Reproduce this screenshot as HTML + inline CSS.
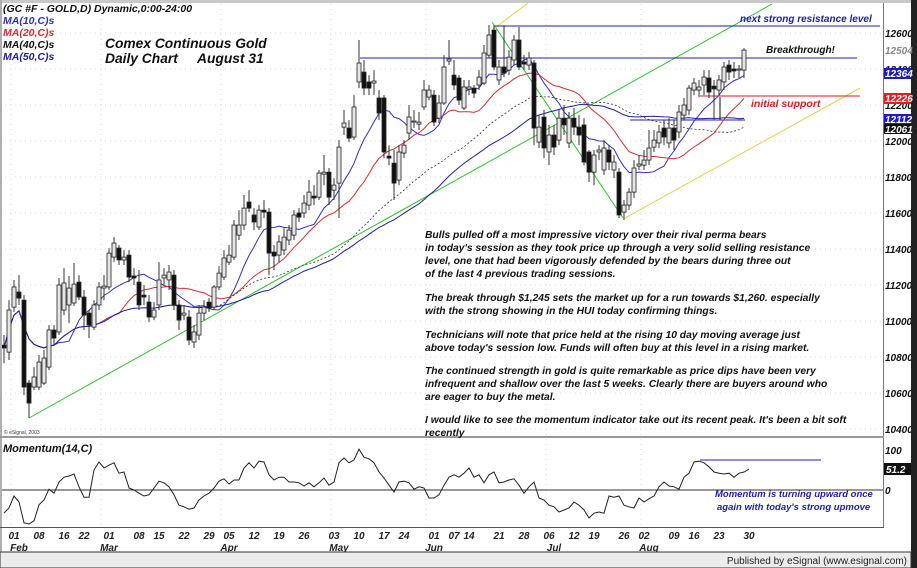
<!DOCTYPE html>
<html><head><meta charset="utf-8"><style>
html,body{margin:0;padding:0;background:#fff;}
svg{display:block;font-family:"Liberation Sans",sans-serif;}
.t{font-style:italic;font-weight:bold;}
</style></head><body>
<svg id="c" width="917" height="568" viewBox="0 0 917 568">
<rect x="0" y="0" width="917" height="568" fill="#fff"/>
<g id="grid"></g>
<g id="lines"></g>
<g id="mas"></g>
<g id="candles"></g>
<g id="mom"></g>
<g id="axes"></g>
</svg>
<script>
const opens=[10866,10827,11077,11161,11116,10655,10633,10633,10655,10744,10950,10939,11061,11089,11100,11216,11133,11044,10966,11089,11183,11189,11355,11405,11339,11366,11250,11216,11144,11105,11022,11089,11239,11228,11255,11089,11033,11022,10883,10922,11044,11105,11077,11189,11244,11327,11355,11477,11533,11661,11589,11522,11616,11605,11383,11366,11394,11450,11477,11600,11600,11644,11694,11688,11816,11827,11727,11766,12077,12072,12022,12328,12383,12328,12322,12239,12239,11916,11877,11783,11933,12044,12105,12094,12189,12244,12255,12127,12211,12444,12366,12350,12183,12289,12294,12311,12322,12477,12616,12339,12411,12394,12450,12561,12439,12422,12433,11994,12133,11939,12033,12005,12127,11989,12127,12077,12089,11939,11827,11939,11839,11950,11839,11827,11605,11644,11716,11861,11866,11894,11966,11989,12072,11989,12072,12050,12144,12172,12283,12283,12311,12350,12305,12283,12328,12422,12400,12394,12394];
const closes=[10850,11061,11189,11127,10633,10544,10689,10772,10794,10950,10905,11200,11211,11183,11205,11133,11033,10977,11089,11189,11194,11377,11433,11339,11355,11244,11239,11089,11133,11022,11061,11228,11255,11272,11089,11005,11044,10894,10939,11044,11077,11072,11189,11266,11350,11366,11533,11533,11627,11627,11550,11616,11605,11377,11361,11439,11466,11505,11589,11577,11655,11716,11683,11822,11827,11688,11755,11966,12100,12016,12189,12433,12294,12294,12333,12155,11939,11905,11766,11939,11977,12133,12111,12105,12283,12283,12105,12211,12411,12455,12311,12227,12300,12300,12266,12355,12489,12589,12411,12411,12377,12466,12561,12411,12427,12461,12072,12077,11961,12033,11966,12127,12089,12127,12077,12033,11883,11827,11922,11950,11961,11883,11883,11589,11644,11716,11850,11872,11894,11961,12005,12050,12022,12072,12005,12161,12200,12294,12322,12300,12355,12272,12289,12339,12411,12383,12389,12400,12505];
const highs=[10922,11116,11228,11255,11144,10672,10744,10811,10838,10977,10977,11239,11294,11250,11322,11255,11172,11061,11116,11216,11255,11405,11466,11422,11394,11394,11294,11283,11200,11144,11105,11327,11294,11311,11283,11116,11089,11061,10977,11089,11116,11127,11200,11305,11394,11422,11561,11616,11700,11727,11627,11644,11672,11627,11422,11477,11516,11533,11616,11627,11700,11783,11755,11839,11922,11850,11794,12005,12172,12116,12255,12561,12450,12366,12394,12283,12255,11977,11950,11977,12005,12200,12172,12161,12339,12311,12283,12255,12477,12561,12450,12366,12339,12339,12311,12394,12533,12644,12644,12450,12644,12505,12589,12633,12477,12494,12450,12144,12172,12089,12089,12172,12200,12161,12183,12144,12127,11950,11950,11977,12005,11977,11922,11850,11672,11739,11894,11922,11950,12061,12061,12089,12116,12127,12116,12200,12239,12311,12350,12339,12394,12394,12339,12366,12439,12450,12439,12422,12516];
const lows=[10766,10783,11050,11089,10589,10461,10616,10616,10644,10727,10866,10922,11033,10989,11083,11116,10950,10905,10950,11061,11116,11172,11327,11311,11311,11216,11200,11061,11089,10994,11005,11061,11200,11172,11061,10950,11005,10866,10850,10894,11005,11050,11061,11172,11228,11311,11339,11450,11505,11605,11505,11505,11572,11255,11283,11327,11366,11422,11450,11550,11572,11616,11644,11672,11755,11644,11672,11572,12033,11994,12005,12294,12255,12255,12255,12116,11905,11866,11672,11755,11905,12005,12072,12061,12172,12227,12083,12100,12200,12422,12283,12200,12172,12255,12239,12283,12311,12461,12394,12311,12355,12366,12422,12394,12394,12394,11977,11961,11905,11866,11922,11977,12033,11961,12033,11977,11866,11772,11755,11894,11811,11839,11794,11572,11561,11616,11683,11839,11839,11866,11939,11961,11977,11961,11950,12016,12116,12144,12255,12244,12255,12239,12116,12255,12283,12339,12350,12350,12350];
const momentum=[-57.5,-45,-15,-30,-82,-85,-77,-37,-25,2,-8,20,32,35,40,8,-18,-18,50,70,55,62,68,42,45,5,0,-8,-15,-12,5,22,18,8,-12,-38,-42,-48,-45,-25,-15,-8,5,22,28,15,25,25,55,68,55,72,70,38,25,32,32,20,20,18,10,18,8,18,30,12,20,68,80,68,75,102,82,78,68,45,30,12,-5,20,22,18,2,8,5,-20,-20,-12,12,32,38,32,42,55,32,38,18,38,45,18,20,25,28,12,-8,8,20,-20,-25,-38,-42,-55,-50,-45,-30,-38,-50,-70,-58,-55,-58,-15,-18,-15,-38,-42,-45,-20,-30,-22,-15,8,20,10,8,2,32,42,70,72,68,58,45,42,40,42,32,42,45,52];
const priceTicks=[10400,10600,10800,11000,11200,11400,11600,11800,12000,12200,12400,12600];
const dayTickIdx=[2,7,12,16,21,27,31,36,41,45,50,55,60,66,71,76,80,86,90,93,99,104,109,114,118,124,128,134,138,143,149];
const dayTickLabels=["01","08","16","22","01","08","15","22","29","05","12","19","26","03","10","17","24","01","07","14","21","28","06","12","19","26","02","09","16","23","30"];
const monthIdx=[3,21,45,67,86,110,129];
const monthLabels=["Feb","Mar","Apr","May","Jun","Jul","Aug"];
const NS="http://www.w3.org/2000/svg";
function xS(i){return 4+5*i;}
function yS(p){return 141-(p-12000)*0.18;}
function mY(v){return 490-v*0.4;}
function mk(tag,attrs,parent){const e=document.createElementNS(NS,tag);for(const k in attrs)e.setAttribute(k,attrs[k]);parent.appendChild(e);return e;}
const G=id=>document.getElementById(id);
const grid=G('grid');
priceTicks.forEach(p=>{const l=mk('line',{x1:0,x2:884,y1:yS(p),y2:yS(p),stroke:'#d8d8d8','stroke-dasharray':'1,4'},grid);

});
monthIdx.forEach(i=>{const l=mk('line',{x1:xS(i)-8,x2:xS(i)-8,y1:4,y2:527,stroke:'#d8d8d8','stroke-dasharray':'1,4'},grid);

});
function ma(n){return closes.map((c,i)=>{const s=closes.slice(Math.max(0,i-n+1),i+1);return s.reduce((a,b)=>a+b,0)/s.length;});}
const maDefs=[[10,'#3030c0','',1,'ma-10'],[20,'#d03030','',1,'ma-20'],[40,'#333','2,2',0.8,'ma-40'],[50,'#2020a0','',1,'ma-50']];
maDefs.forEach(d=>{const v=ma(d[0]);const pts=v.map((p,i)=>xS(i)+','+yS(p).toFixed(1)).join(' ');
const pl=mk('polyline',{points:pts,fill:'none',stroke:d[1],'stroke-width':d[3],'stroke-dasharray':d[2]},G('mas'));

});
const cg=G('candles');
closes.forEach((c,i)=>{const o=opens[i],x=xS(i);
const w=mk('line',{x1:x,x2:x,y1:yS(highs[i]),y2:yS(lows[i]),stroke:'#333','stroke-width':1},cg);


const top=yS(Math.max(o,c)),h=Math.max(1,Math.abs(yS(o)-yS(c)));
const r=mk('rect',{x:x-2,y:top,width:4,height:h,fill:c>=o?'#e6e6e6':'#111',stroke:'#222','stroke-width':0.8},cg);

});
const ln=G('lines');
[[29,418,772,4,'#30c030','uptrend-line'],[492,22,623,218,'#30c030','decline-line'],[492,30,528,3,'#e0d050','upper-channel-line'],[625,218,860,88,'#e0d050','lower-channel-line'],
[495,26,880,26,'#2020b0','resistance-line'],[360,58,857,58,'#2020b0','breakout-line'],[700,96,860,96,'#d02020','support-line'],[630,120,745,120,'#2020b0','ma-level-line'],[720,97,720,120,'#111','support-tail']].forEach(a=>{
const l=mk('line',{x1:a[0],y1:a[1],x2:a[2],y2:a[3],stroke:a[4],'stroke-width':1},ln);

});
const mg=G('mom');
const zl=mk('line',{x1:0,x2:884,y1:mY(0),y2:mY(0),stroke:'#333','stroke-width':1},mg);


const mp=mk('polyline',{points:momentum.map((v,i)=>xS(i)+','+mY(v).toFixed(1)).join(' '),fill:'none',stroke:'#222','stroke-width':1},mg);


const mh=mk('line',{x1:700,x2:821,y1:460,y2:460,stroke:'#2020b0'},mg);


const ax=G('axes');
priceTicks.forEach(p=>{const t=mk('text',{x:885,y:yS(p)+4,'font-size':10,class:'t',fill:'#111'},ax);t.textContent=p;

});
dayTickIdx.forEach((i,k)=>{const t=mk('text',{x:xS(i),y:539,'font-size':10,class:'t','text-anchor':'middle',fill:'#222'},ax);t.textContent=dayTickLabels[k];

});
monthIdx.forEach((i,k)=>{const t=mk('text',{x:xS(i),y:551,'font-size':10,class:'t','text-anchor':'middle',fill:'#222'},ax);t.textContent=monthLabels[k];

});
</script>
<svg width="917" height="568" style="position:absolute;left:0;top:0">
<rect x="0" y="0" width="917" height="3" fill="#c8c8c8"/>
<rect x="0" y="0" width="2" height="552" fill="#b0b0b0"/>
<line x1="883.5" y1="3" x2="883.5" y2="527" stroke="#777"/>
<rect x="0" y="436" width="884" height="2" fill="#999"/>
<line x1="0" y1="527.5" x2="884" y2="527.5" stroke="#555"/>
<rect x="911" y="0" width="6" height="568" fill="#222"/>
<rect x="0" y="552" width="911" height="16" fill="#ececec" stroke="#333" stroke-width="1"/>
<text x="907" y="564" font-size="10" text-anchor="end" fill="#222" font-family="Liberation Sans, sans-serif">Published by eSignal (www.esignal.com)</text>
<g class="t" font-size="10.5">
<text x="3" y="12" fill="#111">(GC #F - GOLD,D) Dynamic,0:00-24:00</text>
<text x="3" y="24" fill="#3030c0">MA(10,C)s</text>
<text x="3" y="36" fill="#d03030">MA(20,C)s</text>
<text x="3" y="48" fill="#111">MA(40,C)s</text>
<text x="3" y="60" fill="#2020a0">MA(50,C)s</text>
</g>
<g class="t" font-size="13.8" fill="#111">
<text x="105" y="48">Comex Continuous Gold</text>
<text x="105" y="63">Daily Chart<tspan x="197">August 31</tspan></text>
</g>
<text x="740" y="22" class="t" font-size="10" fill="#2020b0">next strong resistance level</text>
<text x="766" y="53" class="t" font-size="10" fill="#111">Breakthrough!</text>
<text x="751" y="107" class="t" font-size="10.5" fill="#d02020">initial support</text>
<g class="t" font-size="10.3" fill="#111">
<text x="425" y="238">Bulls pulled off a most impressive victory over their rival perma bears</text>
<text x="425" y="251">in today's session as they took price up through a very solid selling resistance</text>
<text x="425" y="264">level, one that had been vigorously defended by the bears during three out</text>
<text x="425" y="277">of the last 4 previous trading sessions.</text>
<text x="425" y="301">The break through $1,245 sets the market up for a run towards $1,260. especially</text>
<text x="425" y="314">with the strong showing in the HUI today confirming things.</text>
<text x="425" y="338">Technicians will note that price held at the rising 10 day moving average just</text>
<text x="425" y="351">above today's session low. Funds will often buy at this level in a rising market.</text>
<text x="425" y="374">The continued strength in gold is quite remarkable as price dips have been very</text>
<text x="425" y="387">infrequent and shallow over the last 5 weeks. Clearly there are buyers around who</text>
<text x="425" y="400">are eager to buy the metal.</text>
<text x="425" y="423">I would like to see the momentum indicator take out its recent  peak. It's been a bit soft</text>
<text x="425" y="436">recently</text>
</g>
<text x="4" y="434" font-size="5" fill="#333">© eSignal, 2003</text>
<text x="3" y="452" class="t" font-size="11" fill="#111">Momentum(14,C)</text>
<g class="t" font-size="9.5" fill="#2020b0">
<text x="715" y="497">Momentum is turning upward once</text>
<text x="717" y="510">again with today's strong upmove</text>
</g>
<g class="t" font-size="10">
<rect x="884" y="68" width="27" height="11" fill="#1c1cc0"/><text x="885" y="77" fill="#fff">12364</text>
<rect x="884" y="93" width="27" height="11" fill="#e02020"/><text x="885" y="102" fill="#fff">12226</text>
<rect x="884" y="114" width="27" height="10" fill="#1c1cc0"/><text x="885" y="123" fill="#fff">12112</text>
<rect x="884" y="124" width="27" height="10" fill="#111"/><text x="885" y="133" fill="#fff">12061</text>
<text x="885" y="54" fill="#888">12504</text>
<text x="885" y="454" fill="#111">100</text>
<rect x="884" y="463" width="27" height="12" fill="#111"/><text x="886" y="473" fill="#fff">51.2</text>
<text x="885" y="494" fill="#111">0</text>
</g>
</svg>
</body></html>
